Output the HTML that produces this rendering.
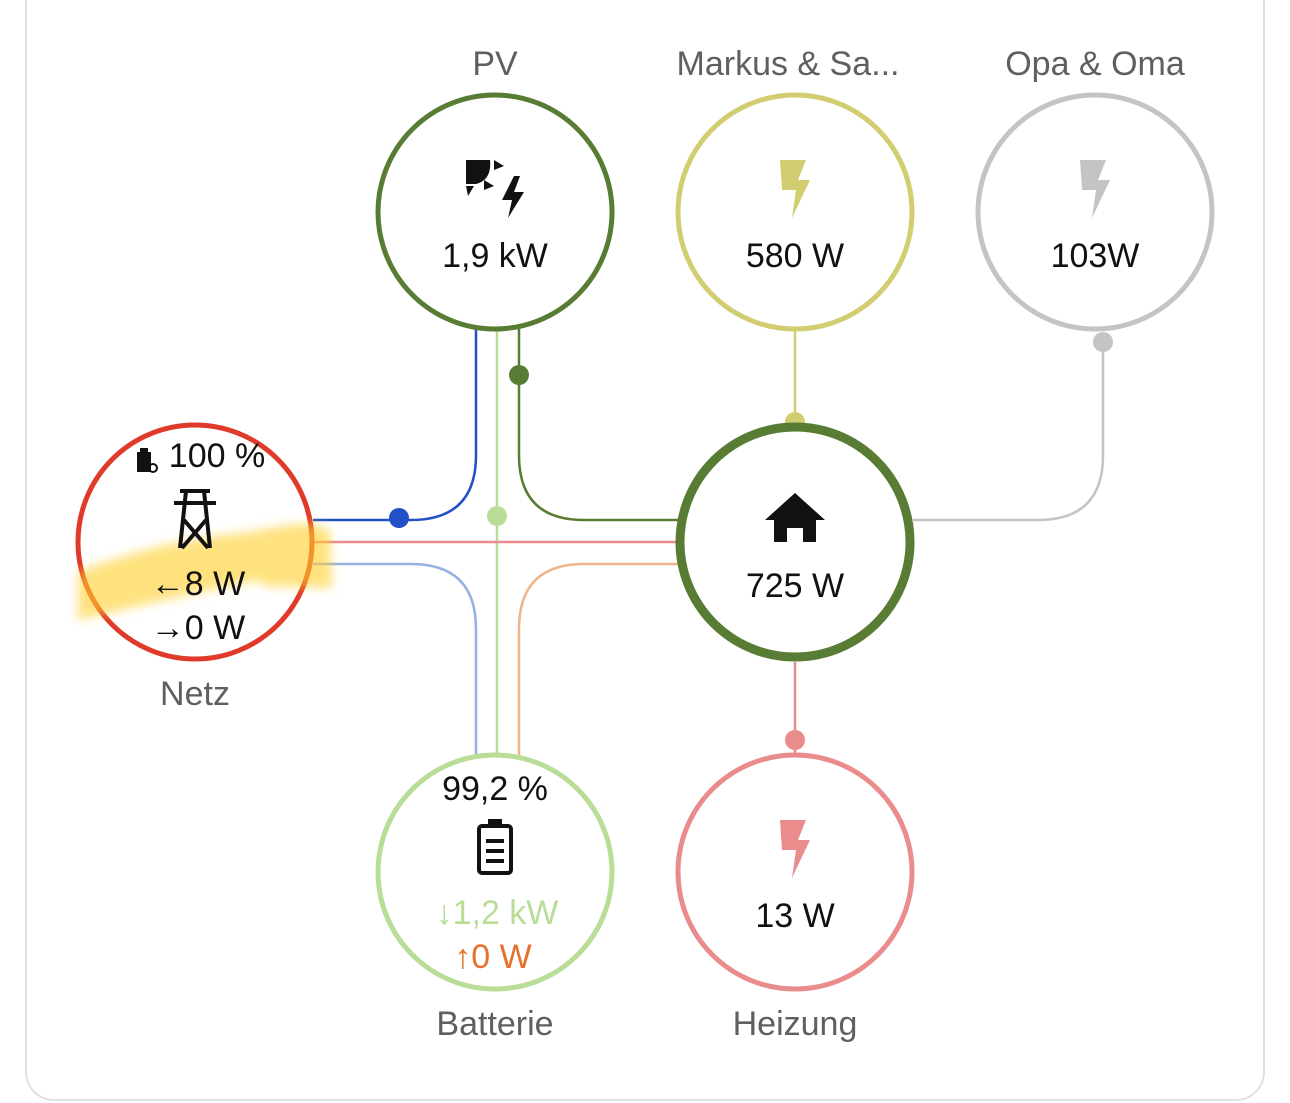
<!DOCTYPE html>
<html><head><meta charset="utf-8"><style>
html,body{margin:0;padding:0;background:#fff;}
svg{display:block;font-family:"Liberation Sans","DejaVu Sans",sans-serif;}
</style></head><body>
<svg width="1290" height="1103" viewBox="0 0 1290 1103" xmlns="http://www.w3.org/2000/svg">
<rect x="26" y="-40" width="1238" height="1140" rx="28" fill="#fff" stroke="#e0e0e0" stroke-width="2"/>
<defs><filter id="b" x="-20%" y="-50%" width="140%" height="200%"><feGaussianBlur stdDeviation="5"/></filter></defs>
<!-- lines -->
<g fill="none" stroke-width="2.5">
<path d="M476 328 V455 Q476 520 411 520 H313" stroke="#2350c8"/>
<path d="M497 328 V756" stroke="#b9dc97"/>
<path d="M519 328 V455 Q519 520 584 520 H680" stroke="#587c33"/>
<path d="M313 542 H680" stroke="#ea8c8c"/>
<path d="M313 564 H411 Q476 564 476 629 V756" stroke="#95b2e3"/>
<path d="M680 564 H584 Q519 564 519 629 V756" stroke="#f0b48a"/>
<path d="M795 330 V426" stroke="#d1cd70"/>
<path d="M1103 342 V455 Q1103 520 1038 520 H913" stroke="#c4c4c4"/>
<path d="M795 662 V756" stroke="#ea8c8c"/>
</g>
<circle cx="399" cy="518" r="10" fill="#2350c8"/>
<circle cx="497" cy="516" r="10" fill="#b9dc97"/>
<circle cx="519" cy="375" r="10" fill="#587c33"/>
<circle cx="795" cy="422" r="10" fill="#d1cd70"/>
<circle cx="1103" cy="342" r="10" fill="#c4c4c4"/>
<circle cx="795" cy="740" r="10" fill="#ea8c8c"/>
<!-- circles -->
<circle cx="495" cy="212" r="117" fill="#fff" stroke="#587c33" stroke-width="5"/>
<circle cx="795" cy="212" r="117" fill="#fff" stroke="#d1cd70" stroke-width="5"/>
<circle cx="1095" cy="212" r="117" fill="#fff" stroke="#c4c4c4" stroke-width="5"/>
<circle cx="195" cy="542" r="117" fill="#fff" stroke="#e03a2b" stroke-width="5"/>
<circle cx="795" cy="542" r="115" fill="#fff" stroke="#587c33" stroke-width="9"/>
<circle cx="495" cy="872" r="117" fill="#fff" stroke="#b9dc97" stroke-width="5"/>
<circle cx="795" cy="872" r="117" fill="#fff" stroke="#ea8c8c" stroke-width="5"/>
<!-- labels -->
<g font-size="34" fill="#5f5f5f" text-anchor="middle">
<text x="495" y="75">PV</text>
<text x="788" y="75">Markus &amp; Sa...</text>
<text x="1095" y="75">Opa &amp; Oma</text>
<text x="195" y="705">Netz</text>
<text x="495" y="1035">Batterie</text>
<text x="795" y="1035">Heizung</text>
</g>
<!-- highlighter -->
<path d="M78 572 Q160 540 250 532 Q300 522 312 524 L330 530 L332 588 L262 586 L260 580 L200 592 Q130 608 78 620 Z" fill="#ffcf2a" opacity="0.6" filter="url(#b)"/>
<g font-size="34" fill="#111" text-anchor="middle">
<text x="495" y="267">1,9 kW</text>
<text x="795" y="267">580 W</text>
<text x="1095" y="267">103W</text>
<text x="795" y="597">725 W</text>
<text x="795" y="927">13 W</text>
<text x="495" y="800">99,2 %</text>
<text x="217" y="467">100 %</text>
<text x="198" y="595">←8 W</text>
<text x="198" y="639">→0 W</text>
<text x="497" y="924" fill="#b9dc97">↓1,2 kW</text>
<text x="493" y="968" fill="#e8702a">↑0 W</text>
</g>
<!-- icons -->
<path d="M466 160 H490 Q492 180 476 184 H466 Z M494 160 L504 166 L494 170 Z M466 186 L474 186 L468 196 Z M484 180 L494 186 L484 190 Z M514 176 L502 200 H512 L508 218 L524 192 H514 L520 176 Z" fill="#111"/>
<path d="M780 160 H806 L798 180 H810 L792 218 L796 190 H782 Z" fill="#d1cd70"/>
<path d="M1080 160 H1106 L1098 180 H1110 L1092 218 L1096 190 H1082 Z" fill="#c4c4c4"/>
<path d="M780 820 H806 L798 840 H810 L792 878 L796 850 H782 Z" fill="#ea8c8c"/>
<path d="M795 493 L825 520 H816 V542 H803 V528 H787 V542 H774 V520 H765 Z" fill="#111"/>
<g fill="none" stroke="#111" stroke-width="4">
<rect x="479" y="826" width="32" height="47" rx="3"/>
<path d="M486 841 H504 M486 851 H504 M486 861 H504"/>
</g>
<rect x="488" y="819" width="14" height="7" fill="#111"/>
<g fill="none" stroke="#111" stroke-width="4">
<path d="M180 491 H210 M174 503 H216 M186 491 L180 548 M204 491 L210 548 M184 520 L208 548 M206 520 L182 548"/>
</g>
<rect x="137" y="452" width="14" height="20" fill="#111"/><rect x="140" y="448" width="8" height="5" fill="#111"/>
<circle cx="153" cy="468" r="4" fill="none" stroke="#111" stroke-width="2"/>
</svg>
</body></html>
